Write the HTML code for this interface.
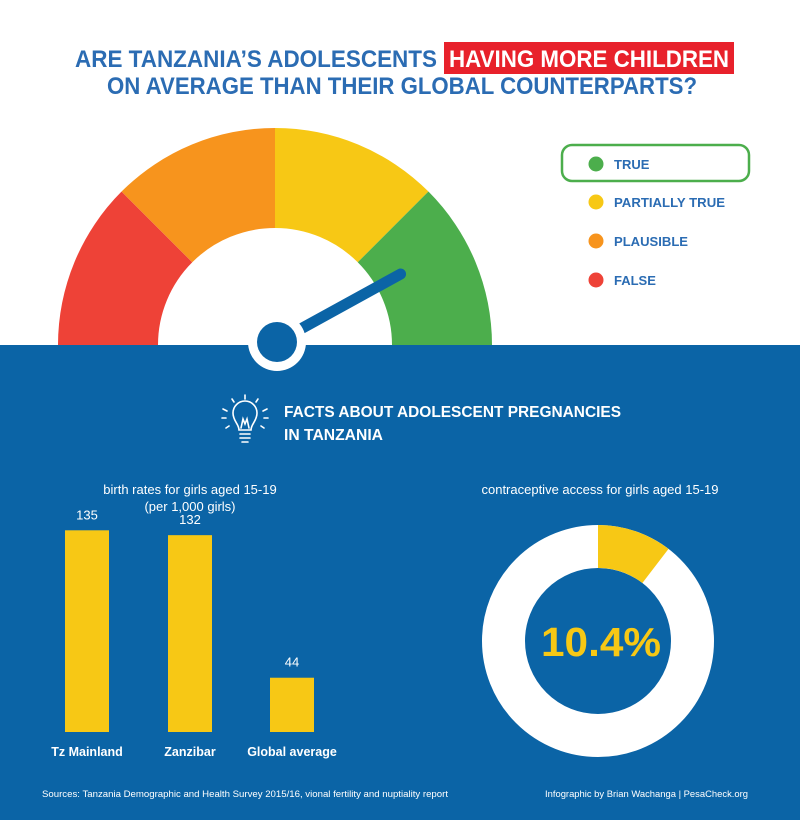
<!DOCTYPE html>
<html><head><meta charset="utf-8"><style>
html,body{margin:0;padding:0;background:#fff}
svg{display:block}
text{font-family:"Liberation Sans",sans-serif}
</style></head><body>
<svg width="800" height="820" viewBox="0 0 800 820">
<rect x="0" y="0" width="800" height="820" fill="#fff"/>
<g>
<text x="75" y="67" font-size="24" font-weight="bold" fill="#2b6cb3" textLength="362" lengthAdjust="spacingAndGlyphs">ARE TANZANIA’S ADOLESCENTS</text>
<rect x="444" y="42" width="290" height="32" fill="#e8212b"/>
<text x="449" y="67" font-size="24" font-weight="bold" fill="#fff" textLength="280" lengthAdjust="spacingAndGlyphs">HAVING MORE CHILDREN</text>
<text x="107" y="94" font-size="24" font-weight="bold" fill="#2b6cb3" textLength="590" lengthAdjust="spacingAndGlyphs">ON AVERAGE THAN THEIR GLOBAL COUNTERPARTS?</text>
</g>
<g id="gauge"></g>
<rect x="0" y="345" width="800" height="475" fill="#0b64a6"/>
<g id="hub">
<circle cx="277" cy="342" r="29" fill="#fff"/>
<circle cx="277" cy="342" r="20" fill="#0b64a6"/>
</g>
<g>
<rect x="562" y="145" width="187" height="36" rx="10" fill="#fff" stroke="#4cae4c" stroke-width="2.5"/>
<circle cx="596" cy="164" r="7.5" fill="#4cae4c"/><text x="614" y="169" font-size="13" font-weight="bold" fill="#2b6cb3">TRUE</text>
<circle cx="596" cy="202" r="7.5" fill="#f7c815"/><text x="614" y="207" font-size="13" font-weight="bold" fill="#2b6cb3" textLength="111" lengthAdjust="spacingAndGlyphs">PARTIALLY TRUE</text>
<circle cx="596" cy="241" r="7.5" fill="#f7941d"/><text x="614" y="246" font-size="13" font-weight="bold" fill="#2b6cb3" textLength="74" lengthAdjust="spacingAndGlyphs">PLAUSIBLE</text>
<circle cx="596" cy="280" r="7.5" fill="#ee4237"/><text x="614" y="285" font-size="13" font-weight="bold" fill="#2b6cb3">FALSE</text>
</g>
<g stroke="#fff" stroke-width="1.6" fill="none" stroke-linecap="round">
<path d="M239 430 C239 424 233 421 233 413 A12 12 0 0 1 257 413 C257 421 251 424 251 430 Z"/>
<line x1="240" y1="434" x2="250" y2="434"/><line x1="240" y1="438" x2="250" y2="438"/><line x1="242" y1="442" x2="248" y2="442"/>
<path d="M241 428 L243 419 L245 424 L247 419 L249 428"/>
<line x1="245" y1="395" x2="245" y2="399"/><line x1="232" y1="399" x2="234" y2="402"/><line x1="258" y1="399" x2="256" y2="402"/>
<line x1="223" y1="409" x2="227" y2="411"/><line x1="267" y1="409" x2="263" y2="411"/><line x1="222" y1="418" x2="226" y2="418"/><line x1="268" y1="418" x2="264" y2="418"/>
<line x1="226" y1="428" x2="229" y2="426"/><line x1="264" y1="428" x2="261" y2="426"/>
</g>
<text x="284" y="417" font-size="16" font-weight="bold" fill="#fff" textLength="337" lengthAdjust="spacingAndGlyphs">FACTS ABOUT ADOLESCENT PREGNANCIES</text>
<text x="284" y="440" font-size="16" font-weight="bold" fill="#fff" textLength="99" lengthAdjust="spacingAndGlyphs">IN TANZANIA</text>
<text x="190" y="494" font-size="13" fill="#fff" text-anchor="middle">birth rates for girls aged 15-19</text>
<text x="190" y="511" font-size="13" fill="#fff" text-anchor="middle">(per 1,000 girls)</text>
<g id="bars"></g>
<text x="600" y="494" font-size="13" fill="#fff" text-anchor="middle">contraceptive access for girls aged 15-19</text>
<g id="donut"></g>
<text x="42" y="797" font-size="9.5" fill="#fff" textLength="406" lengthAdjust="spacingAndGlyphs">Sources: Tanzania Demographic and Health Survey 2015/16, vional fertility and nuptiality report</text>
<text x="545" y="797" font-size="9.5" fill="#fff" textLength="203" lengthAdjust="spacingAndGlyphs">Infographic by Brian Wachanga | PesaCheck.org</text>
</svg>
<script>
const NS='http://www.w3.org/2000/svg';
const gaugeColors=['#ee4237','#f7941d','#f7c815','#4cae4c'];
const needleValue=[0.84];
const barCategories=['Tz Mainland','Zanzibar','Global average'];
const barValues=[135,132,44];
const donutValue=[10.4];

function mk(tag,attrs,parent){const e=document.createElementNS(NS,tag);for(const k in attrs)e.setAttribute(k,attrs[k]);parent.appendChild(e);return e;}
// gauge
const g=document.getElementById('gauge');
const cx=275,cy=345,R=217,r=117;
function pt(rad,a){return [cx+rad*Math.cos(a),cy-rad*Math.sin(a)];}
gaugeColors.forEach((c,i)=>{
  const a0=Math.PI-i*Math.PI/gaugeColors.length,a1=Math.PI-(i+1)*Math.PI/gaugeColors.length;
  const p0=pt(R,a0),p1=pt(R,a1),p2=pt(r,a1),p3=pt(r,a0);
  const p=mk('path',{d:`M${p0} A${R} ${R} 0 0 1 ${p1} L${p2} A${r} ${r} 0 0 0 ${p3} Z`,fill:c},g);
  
  
});
const na=Math.PI*(1-needleValue[0]);
const tip=[277+141*Math.cos(na),342-141*Math.sin(na)];
const nd=mk('line',{x1:277,y1:342,x2:tip[0],y2:tip[1],stroke:'#0b64a6','stroke-width':11,'stroke-linecap':'round'},document.getElementById('hub'));


const hub=document.getElementById('hub');hub.appendChild(hub.children[0]);hub.appendChild(hub.children[0]);
// bars
const b=document.getElementById('bars');
const base=732,ys=v=>Math.max(0,v*1.62-17);
const xc=[87,190,292];
barCategories.forEach((c,i)=>{
  const h=ys(barValues[i]);
  const rect=mk('rect',{x:xc[i]-22,y:base-h,width:44,height:h,fill:'#f7c815'},b);
  
  
  const t=mk('text',{x:xc[i],y:base-h-11,'font-size':13,fill:'#fff','text-anchor':'middle'},b);t.textContent=barValues[i];
  
  
  const l=mk('text',{x:xc[i],y:756,'font-size':12.5,'font-weight':'bold',fill:'#fff','text-anchor':'middle'},b);l.textContent=c;
  
  
});
// donut
const d=document.getElementById('donut');
const dx=598,dy=641,dR=116,dr=73;
const c1=mk('circle',{cx:dx,cy:dy,r:(dR+dr)/2,fill:'none',stroke:'#fff','stroke-width':dR-dr},d);


const ang=donutValue[0]/100*2*Math.PI;
const q=(rad,a)=>[dx+rad*Math.sin(a),dy-rad*Math.cos(a)];
const big=ang>Math.PI?1:0;
const s=mk('path',{d:`M${q(dR,0)} A${dR} ${dR} 0 ${big} 1 ${q(dR,ang)} L${q(dr,ang)} A${dr} ${dr} 0 ${big} 0 ${q(dr,0)} Z`,fill:'#f7c815'},d);


const dt=mk('text',{x:dx+3,y:656,'font-size':41,'font-weight':'bold',fill:'#f7c815','text-anchor':'middle',textLength:120,lengthAdjust:'spacingAndGlyphs'},d);
dt.textContent=donutValue[0]+'%';


</script>
</body></html>
